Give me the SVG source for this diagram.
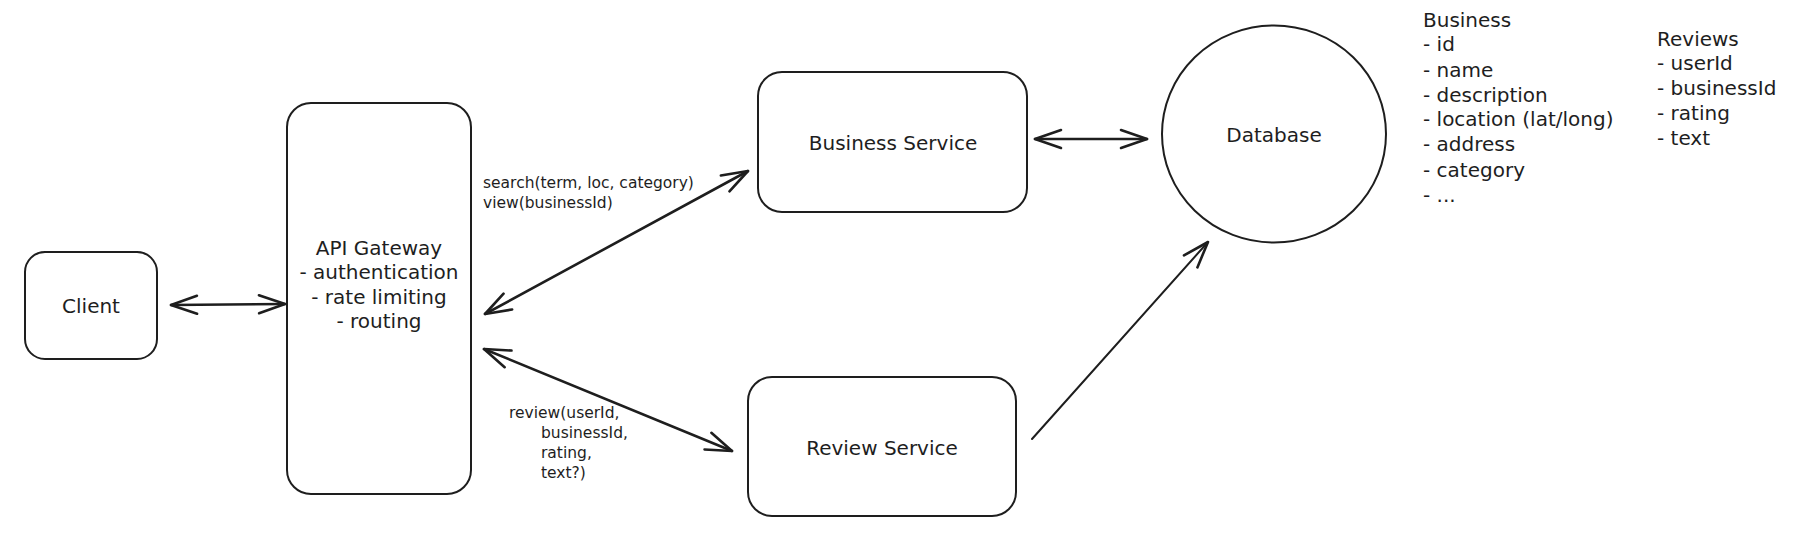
<svg xmlns="http://www.w3.org/2000/svg" width="1801" height="540" viewBox="0 0 1801 540">
  <style>
    .box { fill: none; stroke: #1e1e1e; stroke-width: 2; }
    .lbl { font-family: "DejaVu Sans", "Liberation Sans", sans-serif; font-size: 20px; fill: #1e1e1e; }
    .mid { text-anchor: middle; }
    .small { font-family: "DejaVu Sans", "Liberation Sans", sans-serif; font-size: 15.5px; fill: #1e1e1e; }
    .conn { fill: none; stroke: #1e1e1e; stroke-width: 2.6; stroke-linecap: round; }
    .thin { stroke-width: 2; }
  </style>
  <defs>
    <marker id="head" viewBox="-30 -14 34 28" markerWidth="34" markerHeight="28" refX="0" refY="0" orient="auto-start-reverse" markerUnits="userSpaceOnUse">
      <path d="M -26 -9 L 0 0 L -26 9" fill="none" stroke="#1e1e1e" stroke-width="2.6" stroke-linecap="round" stroke-linejoin="round"/>
    </marker>
  </defs>
  <rect x="0" y="0" width="1801" height="540" fill="#ffffff"/>

  <g id="client">
    <rect class="box" x="25" y="252" width="132" height="107" rx="20"/>
    <text class="lbl mid" x="91" y="313">Client</text>
  </g>

  <g id="api-gateway">
    <rect class="box" x="287" y="103" width="184" height="391" rx="24"/>
    <text class="lbl mid" x="379" y="255">API Gateway</text>
    <text class="lbl mid" x="379" y="279">- authentication</text>
    <text class="lbl mid" x="379" y="304">- rate limiting</text>
    <text class="lbl mid" x="379" y="328">- routing</text>
  </g>

  <g id="business-service">
    <rect class="box" x="758" y="72" width="269" height="140" rx="24"/>
    <text class="lbl mid" x="893" y="150">Business Service</text>
  </g>

  <g id="review-service">
    <rect class="box" x="748" y="377" width="268" height="139" rx="24"/>
    <text class="lbl mid" x="882" y="455">Review Service</text>
  </g>

  <g id="database">
    <ellipse class="box" cx="1274" cy="134" rx="112" ry="108.5"/>
    <text class="lbl mid" x="1274" y="142">Database</text>
  </g>

  <g id="business-schema">
    <text class="lbl" x="1423" y="27">Business</text>
    <text class="lbl" x="1423" y="51">- id</text>
    <text class="lbl" x="1423" y="77">- name</text>
    <text class="lbl" x="1423" y="102">- description</text>
    <text class="lbl" x="1423" y="126">- location (lat/long)</text>
    <text class="lbl" x="1423" y="151">- address</text>
    <text class="lbl" x="1423" y="177">- category</text>
    <text class="lbl" x="1423" y="202">- ...</text>
  </g>

  <g id="reviews-schema">
    <text class="lbl" x="1657" y="46">Reviews</text>
    <text class="lbl" x="1657" y="70">- userId</text>
    <text class="lbl" x="1657" y="95">- businessId</text>
    <text class="lbl" x="1657" y="120">- rating</text>
    <text class="lbl" x="1657" y="145">- text</text>
  </g>

  <g id="connectors">
    <line class="conn" x1="171" y1="305" x2="285" y2="304" marker-start="url(#head)" marker-end="url(#head)"/>
    <line class="conn" x1="485" y1="314" x2="748" y2="171" marker-start="url(#head)" marker-end="url(#head)"/>
    <line class="conn" x1="484" y1="349" x2="732" y2="451" marker-start="url(#head)" marker-end="url(#head)"/>
    <line class="conn" x1="1035" y1="139" x2="1147" y2="139" marker-start="url(#head)" marker-end="url(#head)"/>
    <line class="conn thin" x1="1032" y1="439" x2="1208" y2="242" marker-end="url(#head)"/>
    <text class="small" x="483" y="188">search(term, loc, category)</text>
    <text class="small" x="483" y="208">view(businessId)</text>
    <text class="small" x="509" y="418">review(userId,</text>
    <text class="small" x="541" y="438">businessId,</text>
    <text class="small" x="541" y="458">rating,</text>
    <text class="small" x="541" y="478">text?)</text>
  </g>
</svg>
